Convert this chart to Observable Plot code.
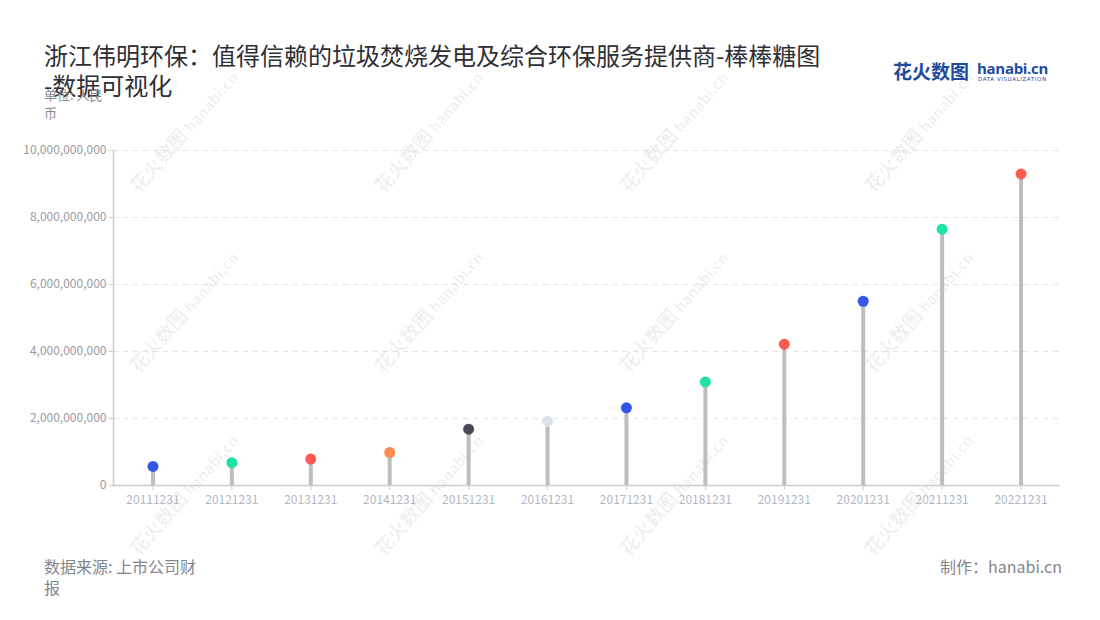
<!DOCTYPE html>
<html>
<head>
<meta charset="utf-8">
<script src="https://cdn.jsdelivr.net/npm/d3@7"></script>
<script src="https://cdn.jsdelivr.net/npm/@observablehq/plot@0.6"></script>
<style>
  html, body { margin: 0; padding: 0; background: #fff; }
  body { width: 1100px; height: 620px; position: relative; overflow: hidden;
         font-family: "Noto Sans CJK SC", "Noto Sans", sans-serif; }
  .abs { position: absolute; }
  #title { left: 44px; top: 40px; font-size: 24px; line-height: 30px; color: #2e2e33; white-space: nowrap; }
  #unit { left: 44px; top: 86px; width: 66px; font-size: 13px; line-height: 18px; color: #8a8a92; }
  #source { left: 44px; top: 556px; width: 158px; font-size: 16px; line-height: 21px; color: #85858e; }
  #maker { right: 38px; top: 556px; font-size: 16px; line-height: 21px; color: #85858e; }
  #logo { left: 893px; top: 60px; height: 24px; }
  #logo .cn { position: absolute; left: 0; top: 0; font-size: 19px; font-weight: 700; color: #1f4a9e; letter-spacing: 0px; white-space: nowrap; line-height: 22px; }
  #logo .en { position: absolute; left: 84px; top: -1px; font-size: 15px; font-weight: 700; color: #1f4a9e; white-space: nowrap; line-height: 18px; font-family: "Open Sans", sans-serif; letter-spacing: -0.3px; }
  #logo .sub { position: absolute; left: 85px; top: 16px; font-size: 5.5px; color: #1f4a9e; white-space: nowrap; letter-spacing: 0.6px; font-family: "DejaVu Sans", sans-serif; }
  #chart { left: 0; top: 130px; }
  .wm { position: absolute; transform: rotate(-49deg); transform-origin: center; white-space: nowrap;
        color: rgba(0,0,0,0.065); font-weight: 700; pointer-events: none; }
  .wm .a { font-size: 19px; }
  .wm .b { font-size: 15px; margin-left: 4px; }
</style>
</head>
<body>
<div id="wms"></div>
<div id="title" class="abs">浙江伟明环保：值得信赖的垃圾焚烧发电及综合环保服务提供商-棒棒糖图<br>-数据可视化</div>
<div id="unit" class="abs">单位: 人民币</div>
<div id="logo" class="abs"><span class="cn">花火数图</span><span class="en">hanabi.cn</span><span class="sub">DATA VISUALIZATION</span></div>
<div id="chart" class="abs"></div>
<div id="source" class="abs">数据来源: 上市公司财报</div>
<div id="maker" class="abs">制作：hanabi.cn</div>
<script>
// ---- data ----
const dates = ["20111231","20121231","20131231","20141231","20151231","20161231",
               "20171231","20181231","20191231","20201231","20211231","20221231"];
const values = [0.57e9, 0.68e9, 0.79e9, 0.985e9, 1.68e9, 1.92e9,
                2.32e9, 3.09e9, 4.22e9, 5.50e9, 7.65e9, 9.30e9];
const dotColors = ["#3556e6","#1de3a3","#ff5a50","#ff8c4c","#4b4b55","#dde1ea",
                   "#3556e6","#1de3a3","#ff5a50","#3556e6","#1de3a3","#ff5a50"];
const yTicks = [0, 2e9, 4e9, 6e9, 8e9, 10e9];

const data = dates.map((d, i) => ({date: d, value: values[i], color: dotColors[i]}));

// watermarks (decorative)
const wmX = [182, 427, 672, 917];
const wmY = [130, 310, 493];
const wms = document.getElementById("wms");
for (const cy of wmY) for (const cx of wmX) {
  const el = document.createElement("div");
  el.className = "wm";
  el.innerHTML = '<span class="a">花火数图</span><span class="b">hanabi.cn</span>';
  wms.appendChild(el);
  const w = el.offsetWidth, h = el.offsetHeight;
  el.style.left = (cx - w / 2) + "px";
  el.style.top = (cy - h / 2) + "px";
}

const chart = Plot.plot({
  width: 1100,
  height: 390,
  marginLeft: 113,
  marginRight: 40,
  marginTop: 20,
  marginBottom: 35,
  style: {fontFamily: "'Noto Sans CJK SC', 'Noto Sans', sans-serif", fontSize: "12px", background: "transparent"},
  x: {type: "point", domain: dates, padding: 0.5, round: false, label: null},
  y: {domain: [0, 10e9], label: null},
  color: {type: "identity"},
  marks: [
    Plot.gridY(yTicks.slice(1), {stroke: "#e2e2e2", strokeOpacity: 1, strokeWidth: 1.2, strokeDasharray: "5,5"}),
    Plot.frame({anchor: "left", stroke: "#cccccc", strokeWidth: 1.5}),
    Plot.ruleY([0], {stroke: "#cccccc", strokeWidth: 1.5}),
    Plot.axisY({ticks: yTicks, tickFormat: d3.format(","), tickSize: 4, tickPadding: 3,
                stroke: "#cccccc", fill: "#9a9aa2", label: null}),
    Plot.axisX({tickSize: 5, tickPadding: 5, stroke: "#cccccc", fill: "#b3b7c6", label: null}),
    Plot.ruleX(data, {x: "date", y1: 0, y2: "value", stroke: "#bdbdbd", strokeWidth: 4}),
    Plot.dot(data, {x: "date", y: "value", r: 5.5, fill: "color", stroke: null})
  ]
});
document.getElementById("chart").appendChild(chart);
</script>
</body>
</html>
